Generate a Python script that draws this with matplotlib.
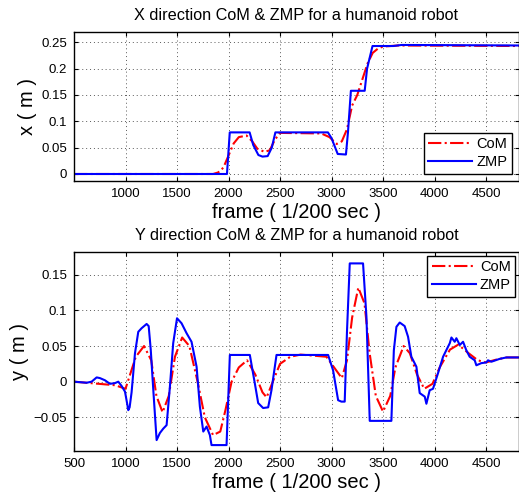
import matplotlib
matplotlib.use("Agg")
import matplotlib.pyplot as plt
import numpy as np

plt.rcParams['font.family'] = ['Liberation Sans', 'DejaVu Sans']

# ---- X direction data ----
x_zmp_f = [500, 1985, 2012, 2205, 2240, 2290, 2330, 2380, 2420, 2455, 2965, 3000, 3060, 3140, 3160, 3188, 3322, 3345, 3398, 3600, 3680, 4820]
x_zmp_v = [0.0, 0.0, 0.079, 0.079, 0.055, 0.036, 0.033, 0.034, 0.05, 0.079, 0.079, 0.068, 0.038, 0.037, 0.08, 0.158, 0.158, 0.2, 0.243, 0.243, 0.245, 0.244]

x_com_f = [500, 1850, 1900, 1950, 2000, 2050, 2100, 2175, 2230, 2280, 2350, 2400, 2450, 2500, 2900, 2980, 3050, 3100, 3150, 3200, 3250, 3300, 3350, 3400, 3450, 3500, 3650, 4820]
x_com_v = [0.0, 0.0, 0.003, 0.012, 0.035, 0.058, 0.070, 0.073, 0.062, 0.048, 0.042, 0.045, 0.065, 0.078, 0.077, 0.070, 0.057, 0.062, 0.085, 0.13, 0.15, 0.18, 0.21, 0.23, 0.238, 0.242, 0.244, 0.243]

# ---- Y direction data ----
y_zmp_f = [500, 623, 671, 720, 752, 800, 849, 898, 930, 962, 995, 1015, 1027, 1040, 1059, 1092, 1124, 1156, 1205, 1225, 1245, 1270, 1302,
           1334, 1366, 1399, 1431, 1463, 1500, 1544, 1593, 1641, 1690, 1722, 1755, 1787, 1819, 1835, 1981, 2013, 2207,
           2255, 2288, 2336, 2385, 2417, 2466, 2967, 3015, 3064, 3096, 3128, 3150, 3177, 3306, 3339, 3371, 3581, 3605,
           3630, 3662, 3710, 3743, 3775, 3824, 3856, 3905, 3921, 3953, 3985, 4034, 4083, 4148, 4164, 4196, 4212, 4245,
           4277, 4309, 4341, 4390, 4406, 4454, 4503, 4519, 4552, 4632, 4697, 4820]
y_zmp_v = [0.0, -0.0015, 0.0, 0.006, 0.005, 0.002, -0.003, -0.002, 0.0, -0.006, -0.014, -0.030, -0.040, -0.036, -0.015, 0.04, 0.07, 0.075, 0.081, 0.078, 0.045, -0.012, -0.082,
           -0.072, -0.066, -0.061, -0.007, 0.054, 0.089, 0.082, 0.068, 0.056, 0.021, -0.035, -0.070, -0.063, -0.075, -0.089, -0.089, 0.0375, 0.0375,
           -0.002, -0.030, -0.037, -0.036, -0.012, 0.0375, 0.0375, 0.016, -0.026, -0.028, -0.028, 0.07, 0.166, 0.166, 0.091, -0.055, -0.055, 0.044,
           0.077, 0.083, 0.078, 0.063, 0.035, 0.021, -0.016, -0.021, -0.031, -0.012, -0.010, 0.012, 0.035, 0.054, 0.062, 0.056, 0.061, 0.0515,
           0.056, 0.044, 0.035, 0.030, 0.023, 0.026, 0.027, 0.030, 0.028, 0.032, 0.034, 0.034]

y_com_f = [500, 900, 1000, 1100, 1180, 1250, 1300, 1360, 1420, 1480, 1550, 1620, 1700, 1770, 1850, 1920, 1970, 2030, 2100, 2180,
           2260, 2330, 2370, 2430, 2500, 2600, 2700, 2950, 3050, 3100, 3150, 3200, 3260, 3320, 3370, 3430, 3500, 3570, 3620,
           3700, 3760, 3830, 3900, 3980, 4050, 4150, 4230, 4330, 4420, 4500, 4600, 4700, 4820]
y_com_v = [0.0, -0.005, -0.010, 0.035, 0.050, 0.030, -0.020, -0.043, -0.020, 0.035, 0.062, 0.050, 0.0, -0.050, -0.075, -0.070, -0.040, 0.0, 0.020, 0.030,
           0.010, -0.015, -0.022, 0.0, 0.025, 0.035, 0.038, 0.035, 0.015, 0.005, 0.030, 0.090, 0.132, 0.110, 0.040, -0.020, -0.042, -0.020, 0.020,
           0.050, 0.040, 0.010, -0.010, -0.003, 0.020, 0.045, 0.052, 0.040, 0.030, 0.027, 0.031, 0.034, 0.034]

x_yticks = [0, 0.05, 0.1, 0.15, 0.2, 0.25]
x_ytick_labels = ['0', '0.05', '0.1', '0.15', '0.2', '0.25']
y_yticks = [-0.05, 0, 0.05, 0.1, 0.15]
y_ytick_labels = ['\u22120.05', '0', '0.05', '0.1', '0.15']
top_xticks = [1000, 1500, 2000, 2500, 3000, 3500, 4000, 4500]
bot_xticks = [500, 1000, 1500, 2000, 2500, 3000, 3500, 4000, 4500]

fig = plt.figure(figsize=(5.19, 4.96), dpi=100)
ax1 = fig.add_axes([74/519, (496-181)/496, 1 - 74/519, 149/496])
ax2 = fig.add_axes([74/519, (496-451)/496, 1 - 74/519, 199/496])

def style(ax):
    ax.grid(True, color='0.35', linestyle=(0, (1, 3)), linewidth=0.7)
    ax.tick_params(direction='in', top=True, right=True, labelsize=9.5, length=3, pad=5)
    for s in ax.spines.values():
        s.set_linewidth(1.0)

def legend(ax, loc, bpad):
    leg = ax.legend(loc=loc, fontsize=10.5, fancybox=False, edgecolor='black',
                    framealpha=1, handlelength=3.0, handletextpad=0.3,
                    borderpad=0.3, labelspacing=0.3, borderaxespad=bpad)
    leg.get_frame().set_linewidth(1.0)
    return leg

ax1.plot(x_com_f, x_com_v, color='red', linestyle='-.', linewidth=1.5, label='CoM')
ax1.plot(x_zmp_f, x_zmp_v, color='blue', linestyle='-', linewidth=1.5, label='ZMP')
ax1.set_xlim(500, 4820)
ax1.set_ylim(-0.0133, 0.2696)
ax1.set_xticks(top_xticks)
ax1.set_yticks(x_yticks)
ax1.set_yticklabels(x_ytick_labels)
style(ax1)
ax1.set_title('X direction CoM & ZMP for a humanoid robot', fontsize=11.7, pad=9)
ax1.set_xlabel('frame ( 1/200 sec )', fontsize=14.5, labelpad=2)
ax1.set_ylabel('x ( m )', fontsize=14.5, labelpad=3)
legend(ax1, 'lower right', 0.5)

ax2.plot(y_com_f, y_com_v, color='red', linestyle='-.', linewidth=1.5, label='CoM')
ax2.plot(y_zmp_f, y_zmp_v, color='blue', linestyle='-', linewidth=1.5, label='ZMP')
ax2.set_xlim(500, 4820)
ax2.set_ylim(-0.0973, 0.182)
ax2.set_xticks(bot_xticks)
ax2.set_yticks(y_yticks)
ax2.set_yticklabels(y_ytick_labels)
style(ax2)
ax2.set_title('Y direction CoM & ZMP for a humanoid robot', fontsize=11.7, pad=9)
ax2.set_xlabel('frame ( 1/200 sec )', fontsize=14.5, labelpad=2)
ax2.set_ylabel('y ( m )', fontsize=14.5, labelpad=3)
legend(ax2, 'upper right', 0.25)

fig.savefig('out.png', dpi=100)
